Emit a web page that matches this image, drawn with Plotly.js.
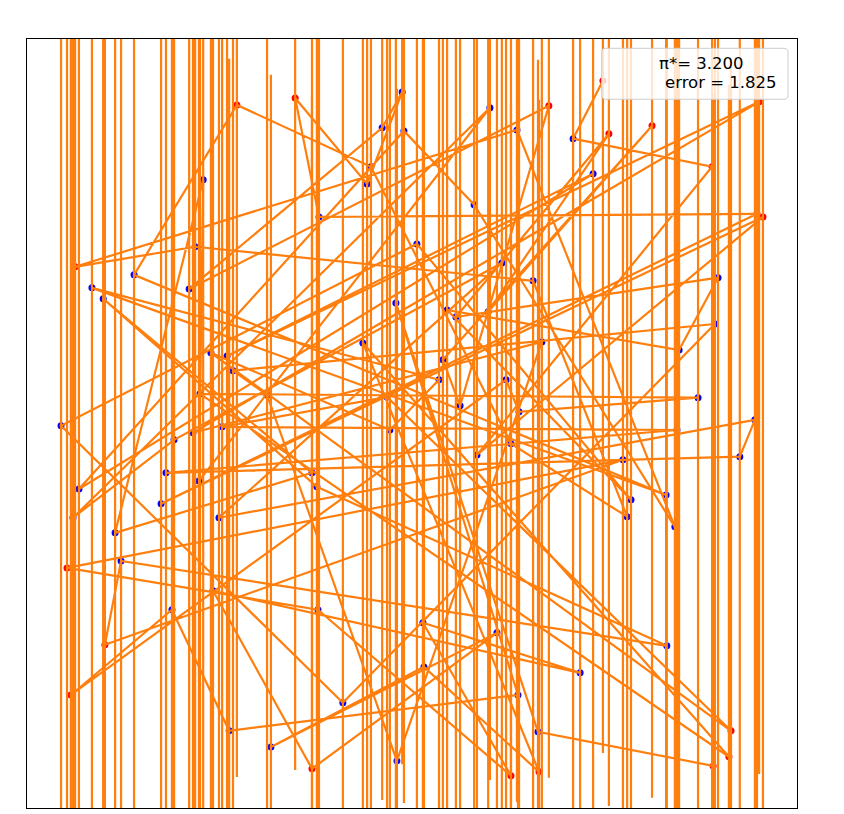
<!DOCTYPE html>
<html><head><meta charset="utf-8">
<script src="https://cdn.plot.ly/plotly-3.0.1.min.js"></script>
<style>html,body{margin:0;padding:0;background:#fff;}#chart{width:844px;height:814px;}</style>
</head><body><div id="chart"></div>
<script>
// Monte Carlo sample points, in the order they were generated (path order)
const pointX = [0.544,0.459,0.855,0.185,1.000,-0.715,0.983,-0.265,-0.333,-0.128,
  -0.028,-0.085,-0.635,0.390,0.137,0.088,0.684,0.217,0.561,0.125,
  0.872,0.761,0.100,0.624,0.014,-1.000,-0.197,0.863,-0.510,-0.413,
  -0.043,0.370,-0.624,0.989,-0.527,0.516,-0.949,-0.023,0.177,0.749,
  0.299,-0.960,-0.618,0.345,0.613,0.282,-0.117,-0.499,-0.792,0.724,
  -0.912,0.077,-0.063,-0.573,0.909,-0.071,-0.541,0.755,-0.701,0.934,
  0.977,-0.550,0.256,-0.678,-0.966,0.222,-0.607,-0.595,-0.846,-0.285,
  -0.880,-0.271,0.726,-0.829,-0.875,0.601,-0.983,-0.268,0.282,0.031,
  0.479,-0.567,-0.285,0.242,-0.402,0.034,0.362,-0.140,0.903,-0.604,
  0.815,0.305,0.268,-0.972,-0.684,-0.521,0.302,-0.046,0.359,0.858];
const pointY = [0.976,0.811,0.731,-0.090,0.588,-0.229,0.597,0.588,0.927,0.682,
  0.944,0.842,0.383,0.905,0.050,0.181,0.848,0.318,0.825,0.303,
  0.415,0.209,0.323,-0.218,0.511,-0.007,-0.796,0.283,0.150,0.081,
  -0.962,0.232,-0.027,0.916,0.192,0.711,-0.187,0.833,0.623,-0.295,
  0.836,0.446,0.503,0.406,-0.266,-0.058,0.731,0.907,0.423,-0.204,
  0.386,0.124,-0.019,0.201,-0.876,0.075,-0.010,-0.019,-0.141,-0.095,
  0.010,-0.269,0.457,-0.047,-0.269,0.899,-0.164,0.694,-0.312,-0.141,
  0.355,-0.181,-0.634,-0.392,-0.631,-0.104,-0.412,-0.531,-1.004,-0.568,
  -0.711,-0.477,-0.984,-0.597,-0.922,-0.694,-0.993,0.229,-0.950,0.084,
  0.073,0.033,0.124,-0.774,-0.531,-0.876,-0.774,0.343,-0.879,-0.976];
// 1 = inside the circle (blue), 0 = outside (red)
const pointInside = [0,1,0,1,0,1,0,1,0,1, 1,1,1,0,1,1,0,1,0,1,
  1,1,1,1,1,1,1,1,1,1, 1,1,1,0,1,1,1,1,1,1,
  1,0,1,1,1,1,1,0,1,1, 1,1,1,1,0,1,1,1,1,1,
  1,1,1,1,1,1,1,1,1,1, 1,1,1,1,0,1,0,1,0,1,
  1,1,0,1,1,1,0,1,0,1, 1,1,1,0,1,1,1,1,1,0];
const estimateLabel = 'π*= 3.200';
const errorLabel = 'error = 1.825';
const STROKE_HALF = 1.915;

const orange = '#ff7f0e';
const vx = [], vy = [];
for (let i = 0; i < pointX.length; i++) {
  vx.push(pointX[i], pointX[i], null);
  vy.push(pointY[i] - STROKE_HALF, pointY[i] + STROKE_HALF, null);
}
const markerTrace = {
  x: pointX, y: pointY, mode: 'markers', type: 'scatter', hoverinfo: 'skip',
  marker: {size: 7, color: pointInside.map(v => v ? '#0000ff' : '#ff0000'), line: {width: 0}}
};
const vTrace = {x: vx, y: vy, mode: 'lines', type: 'scatter', hoverinfo: 'skip',
  line: {color: orange, width: 2.2}, connectgaps: false};
const pathTrace = {x: pointX, y: pointY, mode: 'lines', type: 'scatter', hoverinfo: 'skip',
  line: {color: orange, width: 2.2}};

const x0 = 0.7464, x1 = 0.9883, y0 = 0.9216, y1 = 0.9879, rx = 0.0052, ry = 0.0052;
const boxPath = `M ${x0+rx},${y1} L ${x1-rx},${y1} Q ${x1},${y1} ${x1},${y1-ry} L ${x1},${y0+ry} Q ${x1},${y0} ${x1-rx},${y0} L ${x0+rx},${y0} Q ${x0},${y0} ${x0},${y0+ry} L ${x0},${y1-ry} Q ${x0},${y1} ${x0+rx},${y1} Z`;

const axisCommon = {showline: true, mirror: true, linecolor: '#000', linewidth: 1,
  showticklabels: false, ticks: '', showgrid: false, zeroline: false, fixedrange: true};
const layout = {
  width: 844, height: 814,
  margin: {l: 27, r: 47, t: 39, b: 6, pad: 0},
  paper_bgcolor: '#fff', plot_bgcolor: '#fff', showlegend: false,
  xaxis: Object.assign({range: [-1.097, 1.097]}, axisCommon),
  yaxis: Object.assign({range: [-1.096, 1.095]}, axisCommon),
  shapes: [{type: 'path', xref: 'paper', yref: 'paper', path: boxPath,
    fillcolor: 'rgba(255,255,255,0.8)', line: {color: '#cccccc', width: 1}}],
  annotations: [
    {text: estimateLabel, xref: 'paper', yref: 'paper', x: 0.8182, y: 0.9681,
     xanchor: 'left', yanchor: 'middle', showarrow: false,
     font: {family: 'DejaVu Sans', size: 16.5, color: '#000'}},
    {text: errorLabel, xref: 'paper', yref: 'paper', x: 0.8260, y: 0.9428,
     xanchor: 'left', yanchor: 'middle', showarrow: false,
     font: {family: 'DejaVu Sans', size: 16.5, color: '#000'}}
  ]
};
Plotly.newPlot('chart', [markerTrace, vTrace, pathTrace], layout, {displayModeBar: false, staticPlot: true});
</script>
</body></html>
